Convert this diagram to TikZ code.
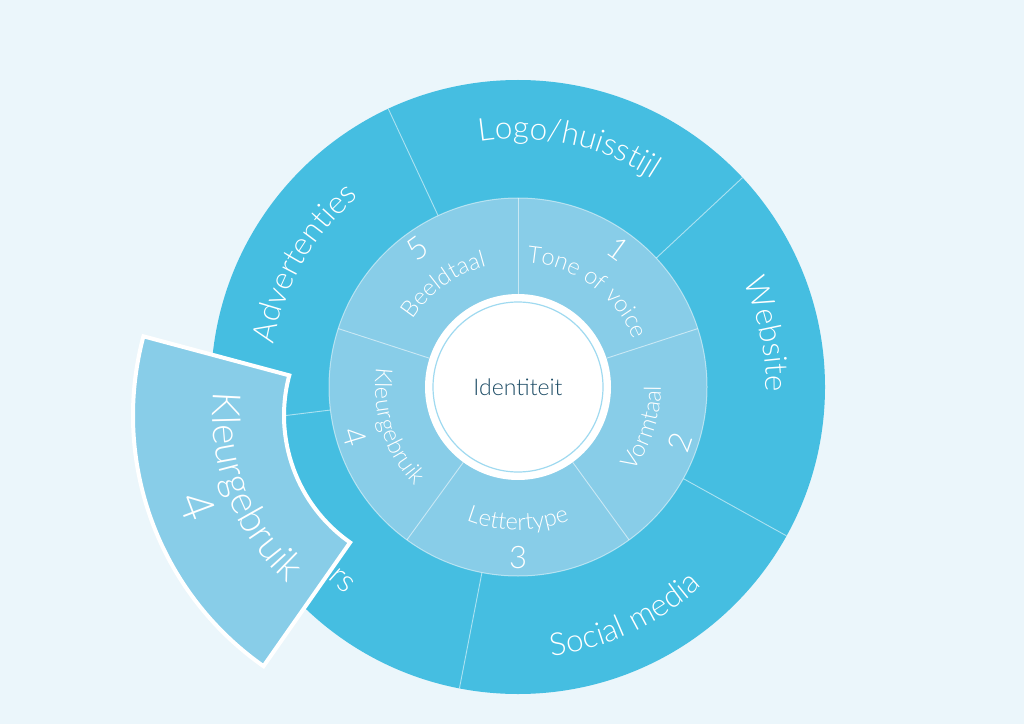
\documentclass[tikz,border=0pt]{standalone}
\usepackage{fontspec}
\setmainfont{Lato}[UprightFont=* Light]
\usetikzlibrary{decorations.text}

\newcommand\ringfont{\fontsize{31.5}{31.5}\selectfont}
\newcommand\segfont{\fontsize{23.5}{23.5}\selectfont}
\newcommand\pullfont{\fontsize{39}{39}\selectfont}

\tikzset{
  ringtext/.style={decorate, decoration={text along path, text align=center, text color=white, text={|\ringfont|#1}}},
  segtext/.style={decorate, decoration={text along path, text align=center, text color=white, text={|\segfont|#1}}},
  pulltext/.style={decorate, decoration={text along path, text align=center, text color=white, text={|\pullfont|#1}}},
  divider/.style={white, opacity=0.55, line width=0.9pt},
  numtext/.style={text=white, font=\fontsize{31}{31}\selectfont, inner sep=0pt},
}

\begin{document}
\begin{tikzpicture}[x=1pt, y=1pt]
    % Define colors
    \definecolor{pagebg}{RGB}{235,246,251}
    \definecolor{ringblue}{RGB}{69,190,225}
    \definecolor{segblue}{RGB}{136,205,232}
    \definecolor{coreline}{RGB}{160,218,240}
    \definecolor{coretext}{RGB}{30,77,102}

    % Background
    \fill[pagebg] (0,0) rectangle (1024,724);
    \useasboundingbox (0,0) rectangle (1024,724);

    % Wheel
    \begin{scope}[shift={(518,337)}]
        % Outer ring
        \fill[ringblue] (0,0) circle (307);
        \foreach \ang in {43,115,187,259,331}
            \draw[divider] (\ang:189) -- (\ang:307);

        % Middle ring
        \fill[segblue] (0,0) circle (189);
        \draw[white, opacity=0.5, line width=1pt] (0,0) circle (189);
        \foreach \ang in {18,90,162,234,306}
            \draw[divider] (\ang:93) -- (\ang:189);

        % Core
        \fill[white] (0,0) circle (93);
        \draw[coreline, line width=1.2pt] (0,0) circle (85);
        \node[font=\fontsize{23}{23}\selectfont, text=coretext] (core) at (0,0) {Identiteit};

        % Outer labels
        \path[ringtext=Logo/huisstijl] (114:248) arc[start angle=114, end angle=42, radius=248];
        \path[ringtext=Advertenties] (186:248) arc[start angle=186, end angle=114, radius=248];
        \path[ringtext=Website] (48:248) arc[start angle=48, end angle=-24, radius=248];
        \path[ringtext=Social media] (259:271) arc[start angle=259, end angle=331, radius=271];
        \node[text=white, font=\ringfont, rotate=-42] (rs) at (227.6:262) {rs};

        % Segment labels
        \path[segtext=Tone of voice] (90:125) arc[start angle=90, end angle=18, radius=125];
        \path[segtext=Beeldtaal] (162:125) arc[start angle=162, end angle=90, radius=125];
        \path[segtext=Vormtaal] (-54:143) arc[start angle=-54, end angle=18, radius=143];
        \path[segtext=Lettertype] (-126:143) arc[start angle=-126, end angle=-54, radius=143];
        \path[segtext=Kleurgebruik] (162:143) arc[start angle=162, end angle=234, radius=143];

        % Segment numbers
        \foreach \n/\ang/\rot in {1/54/-36, 2/-19/71, 3/-90/0, 4/197/-73, 5/126/36}
            \node[numtext, rotate=\rot] (num\n) at (\ang:171) {\n};
    \end{scope}

    % Pulled-out segment
    \begin{scope}[shift={(439,308.5)}]
        \filldraw[fill=segblue, draw=white, line width=4pt, line join=miter]
            (165:155) -- (165:306) arc[start angle=165, end angle=235, radius=306]
            -- (235:155) arc[start angle=235, end angle=165, radius=155] -- cycle;
        \path[pulltext=Kleurgebruik] (166:226) arc[start angle=166, end angle=236, radius=226];
        \node[text=white, font=\fontsize{46}{46}\selectfont, rotate=-69.5] (pullnum) at (200.5:258) {4};
    \end{scope}
\end{tikzpicture}
\end{document}
